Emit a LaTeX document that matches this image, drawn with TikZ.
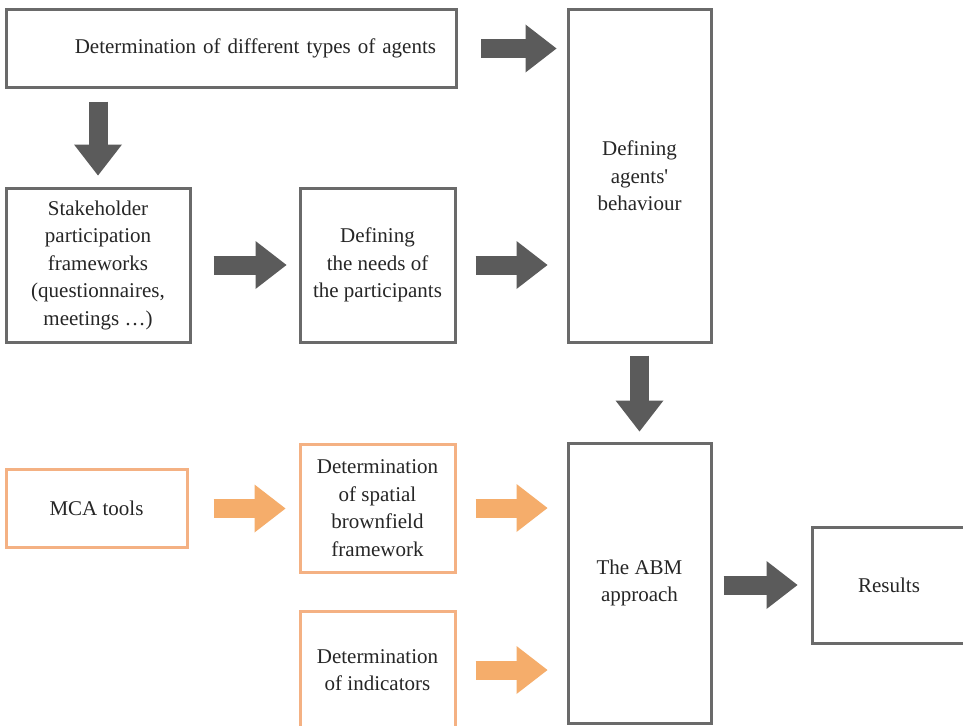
\documentclass[tikz,border=0pt]{standalone}
\usepackage{fontspec}
\setmainfont{Liberation Serif}[Ligatures=TeXOff]
\usetikzlibrary{arrows.meta}
\definecolor{boxgray}{HTML}{6A6A6A}
\definecolor{arrgray}{HTML}{5B5B5B}
\definecolor{boxorange}{HTML}{F4B183}
\definecolor{arrorange}{HTML}{F5AD6B}
\begin{document}
\begin{tikzpicture}[x=1pt,y=-1pt,
  box/.style={draw=boxgray, line width=3pt, fill=white, inner sep=0pt, align=center,
    font=\fontsize{21}{27.5}\selectfont, text=black!85},
  obox/.style={box, draw=boxorange},
  garrow/.style={draw=arrgray, line width=19pt,
    -{Triangle[width=48pt,length=31pt,line width=0pt,fill=arrgray]}},
  oarrow/.style={draw=arrorange, line width=19pt,
    -{Triangle[width=48pt,length=31pt,line width=0pt,fill=arrorange]}}
]
\useasboundingbox (0,0) rectangle (963,725);
\fill[white] (0,0) rectangle (963,725);

\node[box, minimum width=450pt, minimum height=77pt, text width=409pt, inner xsep=20.5pt, align=right] (types) at (231.5,48.5) {Determination of different types of agents};
\node[box, minimum width=184pt, minimum height=154pt] (stake) at (98,265) {Stakeholder\\participation\\frameworks\\(questionnaires,\\meetings \ldots)};
\node[box, minimum width=155pt, minimum height=154pt] (needs) at (377.5,265) {Defining\\the needs of\\the participants};
\node[box, minimum width=143pt, minimum height=332pt] (agents) at (639.5,176) {Defining\\agents'\\behaviour};
\node[box, minimum width=143pt, minimum height=280pt] (abm) at (639.5,583) {The ABM\\approach};
\node[box, minimum width=154pt, minimum height=116pt] (results) at (889,585) {Results};
\node[obox, minimum width=181pt, minimum height=78pt] (mca) at (96.5,508.5) {MCA tools};
\node[obox, minimum width=155pt, minimum height=128pt] (spatial) at (377.5,508) {Determination\\of spatial\\brownfield\\framework};
\node[obox, minimum width=155pt, minimum height=118pt] (indic) at (377.5,670) {Determination\\of indicators};

\draw[garrow, shorten <=23pt, shorten >=10pt] (types.east) -- (types.east -| agents.west);
\draw[garrow, xshift=-3pt, shorten <=13pt, shorten >=11pt] (stake.north |- types.south) -- (stake.north);
\draw[garrow, yshift=-6pt, shorten <=22pt, shorten >=12pt] (stake.east) -- (needs.west);
\draw[garrow, yshift=-6pt, shorten <=19pt, shorten >=19pt] (needs.east) -- (needs.east -| agents.west);
\draw[garrow, shorten <=12pt, shorten >=10pt] (agents.south) -- (abm.north);
\draw[garrow, shorten <=11pt, shorten >=13pt] (abm.east |- results.west) -- (results.west);
\draw[oarrow, yshift=-1.5pt, shorten <=25pt, shorten >=13pt] (mca.east) -- (mca.east -| spatial.west);
\draw[oarrow, yshift=-2pt, shorten <=19pt, shorten >=19pt] (spatial.east) -- (spatial.east -| abm.west);
\draw[oarrow, yshift=4pt, shorten <=19pt, shorten >=19pt] (indic.east) -- (indic.east -| abm.west);
\end{tikzpicture}
\end{document}
